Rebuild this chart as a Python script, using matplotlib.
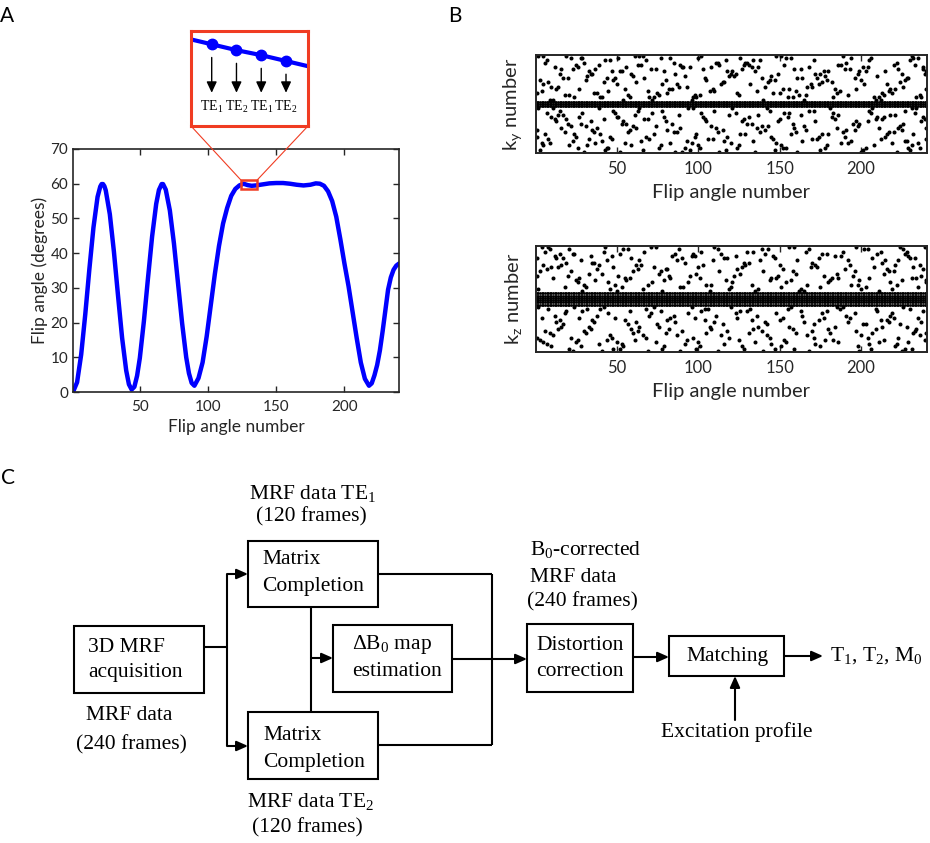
import matplotlib.pyplot as plt
import numpy as np
from matplotlib.patches import Rectangle, FancyArrowPatch, ConnectionPatch
from matplotlib.transforms import blended_transform_factory

# ---------------- data ----------------
# panel A: flip angle train (frame number, degrees)
fa_frames = [1, 4, 7, 10, 13, 16, 19, 21, 22, 23, 24, 25, 28, 31, 34, 37, 40, 42, 44, 46,
             48, 50, 53, 56, 59, 62, 64, 66, 67, 69, 72, 75, 78, 81, 84, 86, 88, 90, 93, 96,
             99, 102, 105, 108, 111, 114, 117, 120, 123, 126, 129, 132, 135, 140, 145, 150, 155, 160, 165, 170,
             175, 179, 182, 185, 188, 191, 194, 197, 200, 203, 206, 209, 212, 215, 218, 220, 222, 224, 226, 228,
             230, 232, 234, 236, 238, 240]
fa_values = [0, 2.8, 10.8, 22.4, 35.4, 47.4, 56.2, 59.2, 59.9, 59.9, 59.3, 58.1, 51.2, 40.4, 27.8, 15.6, 6.2, 2.2, 0.7, 1.5,
             4.7, 9.8, 20.5, 32.9, 44.8, 54.2, 58.2, 59.9, 59.9, 58.3, 52.3, 42.8, 31.3, 19.8, 10.0, 5.4, 2.6, 1.8, 4.0, 8.5,
             16, 25, 34, 42, 48.5, 53, 56.5, 58.5, 59.5, 60, 59.6, 59.4, 59.5, 59.8, 60.1, 60.2, 60.2, 60.0, 59.7, 59.5,
             59.7, 60.1, 60.0, 59.4, 57.8, 55, 50.5, 44, 37, 30.5, 23, 15.5, 8.5, 3.8, 1.8, 2.5, 4.8, 7.8, 12, 17.5,
             23.5, 29.5, 33, 35.2, 36.4, 37]

# zoomed inset (frames 128-133)
inset_frames = [128, 129, 130, 131, 132, 133]
inset_values = [59.67, 59.6, 59.53, 59.47, 59.4, 59.33]
te_labels = [r'TE$\mathregular{_1}$', r'TE$\mathregular{_2}$', r'TE$\mathregular{_1}$', r'TE$\mathregular{_2}$']

# panel B: sampling masks, fully sampled centre rows + sparse rows (frames sampled per row)
n_frames = 240
ky_center = [22, 23, 24]
ky_rows = [45, 38, 31, 26, 42, 35, 28, 40, 33, 44, 29, 37, 25, 41, 34, 27, 43, 30, 36, 39, 32,
           21, 14, 7, 18, 3, 11, 16, 1, 9, 20, 5, 13, 17, 2, 10, 19, 6, 15, 8, 12, 4]
ky_frames = [
    [2, 5, 19, 61, 64, 66, 102, 148, 151, 189, 231],
    [33, 47, 52, 53, 79, 118, 121, 135, 177, 180, 199, 203, 215, 240],
    [10, 14, 88, 93, 141, 167, 170, 226],
    [24, 40, 41, 58, 70, 73, 97, 99, 155, 158, 183, 208, 211, 234, 237],
    [6, 30, 85, 111, 112, 129, 130, 191, 222],
    [17, 20, 44, 49, 67, 104, 139, 161, 164, 173, 196, 228, 229],
    [1, 36, 38, 75, 81, 124, 146, 150, 185, 213, 219],
    [12, 26, 56, 90, 91, 95, 108, 133, 137, 168, 201, 204, 238],
    [8, 42, 62, 115, 116, 143, 176, 182, 224],
    [22, 28, 29, 51, 77, 83, 100, 126, 154, 157, 194, 206, 232, 235],
    [4, 45, 69, 107, 110, 136, 160, 187, 217],
    [15, 34, 35, 59, 86, 120, 123, 149, 172, 175, 198, 225, 239],
    [9, 11, 54, 72, 96, 140, 165, 209, 212],
    [25, 39, 63, 65, 89, 113, 128, 131, 153, 186, 188, 220, 233],
    [3, 31, 48, 80, 105, 144, 147, 179, 200, 227],
    [18, 21, 57, 76, 98, 101, 125, 162, 166, 192, 214, 236],
    [7, 43, 46, 68, 117, 134, 138, 171, 205, 230],
    [13, 27, 55, 82, 84, 109, 152, 156, 184, 197, 218, 221, 240],
    [32, 60, 92, 119, 122, 145, 178, 210],
    [16, 23, 37, 71, 74, 103, 127, 159, 163, 190, 193, 223, 238],
    [5, 50, 78, 87, 114, 132, 169, 174, 202, 216],
    [2, 11, 39, 64, 94, 97, 121, 142, 181, 207, 231, 234],
    [20, 28, 53, 56, 84, 130, 133, 158, 195, 199, 226],
    [8, 33, 47, 70, 106, 109, 146, 170, 173, 212, 240],
    [14, 17, 61, 88, 119, 137, 163, 186, 218, 221],
    [26, 44, 45, 76, 92, 101, 124, 152, 154, 178, 203, 229, 236],
    [1, 35, 58, 81, 115, 141, 166, 191, 196, 225],
    [12, 19, 42, 67, 69, 104, 128, 150, 184, 209, 213, 239],
    [30, 52, 86, 90, 113, 135, 161, 200, 222],
    [6, 24, 40, 73, 99, 126, 129, 157, 176, 180, 216, 232],
    [15, 48, 63, 78, 110, 144, 168, 171, 205, 227],
    [4, 9, 37, 55, 83, 96, 120, 148, 188, 192, 219, 235],
    [22, 31, 60, 74, 108, 139, 143, 165, 198, 224],
    [10, 27, 50, 51, 79, 103, 131, 155, 182, 210, 214, 238],
    [3, 43, 66, 95, 117, 147, 175, 201, 230],
    [18, 36, 57, 85, 87, 112, 138, 160, 189, 217, 220],
    [7, 29, 49, 72, 102, 123, 153, 156, 183, 206, 233],
    [23, 41, 65, 93, 116, 134, 164, 194, 227, 228],
    [13, 34, 54, 80, 105, 127, 149, 172, 197, 204, 237],
    [1, 25, 46, 68, 98, 118, 145, 174, 190, 215],
    [16, 38, 62, 89, 111, 136, 159, 185, 211, 223, 240],
    [5, 21, 32, 59, 77, 100, 125, 151, 179, 208, 231],
]

kz_center = [22, 23, 24, 25, 26, 27]
kz_rows = [48, 41, 34, 29, 45, 38, 31, 43, 36, 47, 32, 40, 28, 44, 37, 30, 46, 33, 39, 42, 35,
           20, 13, 6, 17, 2, 10, 15, 21, 8, 19, 4, 12, 16, 1, 9, 18, 5, 14, 7, 11, 3]
kz_frames = [
    [4, 8, 43, 71, 74, 110, 156, 159, 197, 224, 239],
    [19, 35, 36, 92, 128, 131, 170, 213],
    [11, 27, 55, 58, 83, 101, 145, 148, 182, 186, 205, 231, 234],
    [2, 46, 66, 119, 137, 163, 200, 219],
    [15, 23, 24, 52, 86, 97, 114, 141, 176, 179, 210, 227],
    [7, 38, 63, 80, 81, 124, 152, 190, 216, 238],
    [30, 49, 69, 105, 108, 133, 167, 194, 198, 222],
    [1, 13, 17, 59, 90, 116, 118, 147, 174, 207, 230, 233],
    [33, 41, 76, 99, 126, 160, 185, 214],
    [9, 21, 54, 57, 88, 112, 139, 143, 168, 202, 204, 226],
    [26, 45, 72, 94, 121, 154, 180, 218, 240],
    [5, 16, 39, 62, 65, 103, 129, 150, 172, 193, 221, 236],
    [29, 50, 78, 107, 135, 162, 165, 211],
    [12, 34, 47, 84, 96, 98, 123, 146, 184, 188, 229],
    [3, 22, 60, 77, 113, 140, 158, 196, 217, 220],
    [18, 31, 53, 89, 91, 120, 151, 175, 203, 235],
    [6, 42, 67, 102, 130, 134, 166, 189, 212, 228],
    [25, 37, 56, 79, 117, 144, 157, 181, 199, 225, 240],
    [10, 14, 48, 73, 100, 127, 169, 173, 208, 232],
    [28, 44, 64, 87, 109, 138, 161, 192, 215, 223],
    [1, 20, 51, 82, 95, 122, 149, 177, 195, 237],
    [8, 32, 40, 68, 104, 106, 132, 155, 187, 209, 230],
    [17, 57, 75, 115, 142, 171, 201, 203, 224],
    [3, 26, 44, 61, 93, 125, 153, 178, 183, 214, 239],
    [12, 38, 70, 85, 111, 136, 164, 191, 218],
    [21, 48, 52, 78, 99, 128, 147, 159, 206, 227, 231],
    [6, 30, 63, 90, 118, 139, 170, 197, 233],
    [15, 35, 55, 81, 104, 133, 150, 174, 212, 216],
    [2, 24, 42, 73, 96, 120, 157, 185, 189, 226],
    [11, 46, 66, 87, 114, 142, 167, 200, 236],
    [19, 29, 58, 77, 102, 126, 130, 163, 179, 210, 238],
    [7, 39, 53, 92, 116, 145, 172, 205, 222],
    [16, 33, 64, 76, 107, 137, 156, 184, 213, 228],
    [4, 27, 49, 83, 98, 124, 152, 177, 193, 220, 235],
    [23, 41, 69, 89, 112, 140, 168, 199, 225],
    [9, 31, 60, 80, 105, 131, 160, 181, 207, 232, 240],
    [18, 45, 71, 94, 123, 148, 176, 196, 219],
    [5, 25, 50, 74, 100, 135, 154, 186, 211, 229],
    [13, 36, 62, 86, 110, 141, 165, 192, 217, 237],
    [1, 22, 47, 68, 97, 119, 144, 171, 204, 223],
    [14, 34, 59, 82, 108, 134, 158, 180, 209, 234],
    [10, 28, 54, 79, 101, 127, 151, 175, 198, 221],
]

W, H = 930, 843
RED = '#f03c22'
GRAY = '#262626'
plt.rcParams['font.family'] = ['Lato', 'DejaVu Sans']

fig = plt.figure(figsize=(W / 100, H / 100), dpi=100)


def fig_rect(x0, y0, x1, y1):
    # pixel box (top-left origin) -> figure fraction
    return [x0 / W, 1 - y1 / H, (x1 - x0) / W, (y1 - y0) / H]


def style_axes(ax, lw=1.2):
    for sp in ax.spines.values():
        sp.set_color(GRAY)
        sp.set_linewidth(lw)
    ax.tick_params(direction='in', top=True, right=True, colors=GRAY, width=1, length=4)


# ---------------- panel A ----------------
ax_a = fig.add_axes(fig_rect(73, 149, 399, 392))
ax_a.plot(fa_frames, fa_values, color='blue', lw=3.2, solid_joinstyle='round', solid_capstyle='round')
ax_a.set_xlim(1, 240)
ax_a.set_ylim(0, 70)
ax_a.set_xticks([50, 100, 150, 200])
ax_a.set_yticks(np.arange(0, 71, 10))
style_axes(ax_a)
ax_a.tick_params(axis='x', labelsize=11, pad=6)
ax_a.tick_params(axis='y', labelsize=11, pad=3.5)
ax_a.set_xlabel('Flip angle number', fontsize=12.5, color=GRAY, labelpad=3)
ax_a.set_ylabel('Flip angle (degrees)', fontsize=12.5, color=GRAY, labelpad=2)
ax_a.add_patch(Rectangle((124, 58.5), 12.1, 2.6, fill=False, ec=RED, lw=1.8, zorder=5))

# inset
ax_in = fig.add_axes(fig_rect(191, 31, 308, 126))
ax_in.plot(inset_frames, inset_values, '-', color='blue', lw=3)
ax_in.plot(inset_frames[1:5], inset_values[1:5], 'o', color='blue', ms=7.5)
ax_in.set_xlim(128.164, 132.888)
ax_in.set_ylim(58.623, 59.759)
ax_in.set_xticks([])
ax_in.set_yticks([])
for sp in ax_in.spines.values():
    sp.set_color(RED)
    sp.set_linewidth(2.2)
trans = blended_transform_factory(ax_in.transData, ax_in.transAxes)
for f, v, lab in zip(inset_frames[1:5], inset_values[1:5], te_labels):
    ax_in.annotate('', xy=(f, 0.35), xycoords=trans, xytext=(f, v), textcoords='data',
                   arrowprops=dict(arrowstyle='-|>,head_length=0.47,head_width=0.22', color='k',
                                   lw=1, shrinkA=9.5, shrinkB=0, mutation_scale=14))
    ax_in.text(f, 0.2, lab, transform=trans, ha='center', va='center',
               family='Liberation Serif', fontsize=10)

for xa, xb in [((124, 61.1), (0, 0)), ((136.1, 61.1), (1, 0))]:
    con = ConnectionPatch(xyA=xa, coordsA=ax_a.transData, xyB=xb, coordsB=ax_in.transAxes,
                          color=RED, lw=0.8)
    fig.add_artist(con)

# ---------------- panel B ----------------
all_frames = np.arange(1, n_frames + 1)


def draw_mask(ax, rows, frame_lists, center, ylim_top, ylab):
    for k, fl in zip(rows, frame_lists):
        ax.plot(fl, [k] * len(fl), 'o', color='k', ms=2.9, mew=0)
    for k in center:
        ax.plot(all_frames, [k] * n_frames, 'o', color='k', ms=2.0, mew=0)
    ax.set_xlim(0.5, 240.5)
    ax.set_ylim(0.5, ylim_top + 0.5)
    ax.set_xticks([50, 100, 150, 200])
    ax.set_yticks([])
    style_axes(ax, lw=1.4)
    ax.tick_params(axis='x', labelsize=12, pad=6)
    ax.set_xlabel('Flip angle number', fontsize=14.5, color=GRAY, labelpad=5)
    ax.set_ylabel(ylab, fontsize=14.5, color=GRAY, labelpad=9)


ax_ky = fig.add_axes(fig_rect(536, 55, 927, 153))
draw_mask(ax_ky, ky_rows, ky_frames, ky_center, 45, r'k$\mathregular{_y}$ number')
ax_kz = fig.add_axes(fig_rect(536, 246, 927, 352))
draw_mask(ax_kz, kz_rows, kz_frames, kz_center, 48, r'k$\mathregular{_z}$ number')

# ---------------- panel C: flowchart ----------------
ax_c = fig.add_axes(fig_rect(0, 470, W, H))
ax_c.set_xlim(0, W)
ax_c.set_ylim(H, 470)
ax_c.axis('off')

serif = dict(family='Liberation Serif', fontsize=15.5, color='k', va='center')
boxes = [(74, 626, 204, 693), (248, 541, 378, 607), (248, 712, 378, 779),
         (333, 625, 452, 692), (527, 624, 633, 692), (669, 636, 784, 676)]
for x0, y0, x1, y1 in boxes:
    ax_c.add_patch(Rectangle((x0, y0), x1 - x0, y1 - y0, fill=False, ec='k', lw=1.5))

texts = [
    ('3D MRF', 88, 647, 'left'), ('acquisition', 88, 672, 'left'),
    ('MRF data', 86, 716, 'left'), ('(240 frames)', 76, 745, 'left'),
    (r'MRF data TE$\mathregular{_1}$', 313, 493, 'center'), ('(120 frames)', 311, 517, 'center'),
    ('Matrix', 262, 560, 'left'), ('Completion', 262, 587, 'left'),
    ('Matrix', 263, 735, 'left'), ('Completion', 263, 762, 'left'),
    (r'MRF data TE$\mathregular{_2}$', 311, 802, 'center'), ('(120 frames)', 307, 828, 'center'),
    (r'ΔB$\mathregular{_0}$ map', 352, 645, 'left'), ('estimation', 352, 672, 'left'),
    (r'B$\mathregular{_0}$-corrected', 530, 550, 'left'), ('MRF data', 530, 577, 'left'),
    ('(240 frames)', 527, 602, 'left'),
    ('Distortion', 536, 646, 'left'), ('correction', 536, 672, 'left'),
    ('Matching', 727, 656, 'center'),
    (r'T$\mathregular{_1}$, T$\mathregular{_2}$, M$\mathregular{_0}$', 830, 656, 'left'),
    ('Excitation profile', 737, 732, 'center'),
]
for s, x, y, ha in texts:
    ax_c.text(x, y, s, ha=ha, **serif)

lines = [((204, 647), (227, 647)), ((227, 574), (227, 746)), ((311, 607), (311, 712)),
         ((378, 574), (492, 574)), ((492, 574), (492, 745)), ((378, 745), (492, 745))]
for (xa, ya), (xb, yb) in lines:
    ax_c.plot([xa, xb], [ya, yb], color='k', lw=1.5, solid_capstyle='butt')

arrows = [((227, 574), (248, 574)), ((227, 746), (248, 746)), ((311, 658), (333, 658)),
          ((452, 659), (527, 659)), ((633, 657), (669, 657)), ((784, 656), (823, 656)),
          ((735, 720), (735, 676))]
for a, b in arrows:
    ax_c.add_patch(FancyArrowPatch(a, b, arrowstyle='-|>,head_length=0.45,head_width=0.2',
                                   mutation_scale=15, color='k', lw=1.5, shrinkA=0, shrinkB=0))

# panel letters
fig.text(0 / W, 1 - 6 / H, 'A', fontsize=15, va='top', ha='left')
fig.text(448 / W, 1 - 6 / H, 'B', fontsize=15, va='top', ha='left')
fig.text(1 / W, 1 - 468 / H, 'C', fontsize=15, va='top', ha='left')

fig.savefig('out.png', dpi=100)
